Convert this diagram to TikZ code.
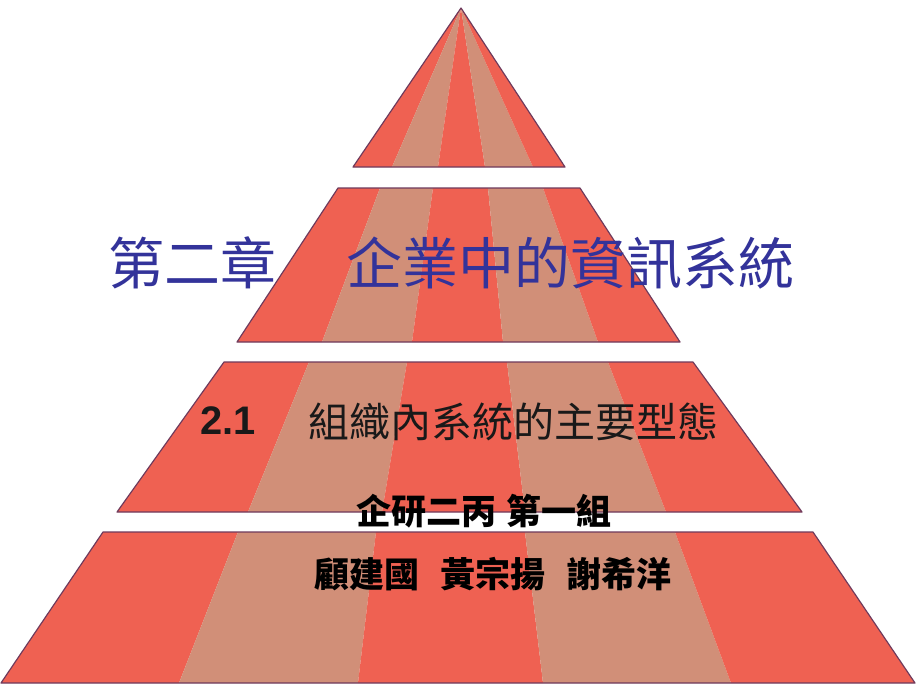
\documentclass[tikz,border=0pt]{standalone}
\usepackage{fontspec}
\setmainfont{Liberation Sans}
\newfontfamily\cjk{Noto Sans CJK TC}
\definecolor{stripered}{HTML}{EF6152}
\definecolor{stripetan}{HTML}{D18F78}
\definecolor{rim}{HTML}{6E3A5C}
\definecolor{titleblue}{HTML}{33339A}
\def\stripe[#1](#2)(#3)(#4)(#5){\fill[#1] (#2) -- (#3) -- (#4) -- (#5) -- cycle;}
\tikzset{rimline/.style={draw=rim, line width=1pt, line join=round},
  txt/.style={inner sep=0pt, anchor=base west}}

\begin{document}
\begin{tikzpicture}[x=0.03cm,y=-0.03cm]
			%%%%% START %%%%%
			\fill[white] (0,0) rectangle (920,690);
			
			% tip
			\fill[stripered] (461,8) -- (353,167) -- (392,167) -- cycle;
			\fill[stripetan] (461,8) -- (392,167) -- (438,167) -- cycle;
			\fill[stripered] (461,8) -- (438,167) -- (485,167) -- cycle;
			\fill[stripetan] (461,8) -- (485,167) -- (533,167) -- cycle;
			\fill[stripered] (461,8) -- (533,167) -- (565,167) -- cycle;
			\draw[rimline] (461,8) -- (353,167) -- (565,167) -- cycle;
			
			% second band
			\stripe[stripered](338,188)(380,188)(322,342)(237,342);
			\stripe[stripetan](380,188)(433,188)(412,342)(322,342);
			\stripe[stripered](433,188)(488,188)(503,342)(412,342);
			\stripe[stripetan](488,188)(543,188)(598,342)(503,342);
			\stripe[stripered](543,188)(580,188)(680,342)(598,342);
			\draw[rimline] (338,188) -- (580,188) -- (680,342) -- (237,342) -- cycle;
			
			% third band
			\stripe[stripered](224,362)(309,362)(248,512)(117,512);
			\stripe[stripetan](309,362)(407,362)(382,512)(248,512);
			\stripe[stripered](407,362)(507,362)(525,512)(382,512);
			\stripe[stripetan](507,362)(608,362)(666,512)(525,512);
			\stripe[stripered](608,362)(693,362)(802,512)(666,512);
			\draw[rimline] (224,362) -- (693,362) -- (802,512) -- (117,512) -- cycle;
			
			% base band
			\stripe[stripered](103,532)(238,532)(179,683)(1,683);
			\stripe[stripetan](238,532)(376,532)(358,683)(179,683);
			\stripe[stripered](376,532)(525,532)(543,683)(358,683);
			\stripe[stripetan](525,532)(675,532)(731,683)(543,683);
			\stripe[stripered](675,532)(813,532)(915,683)(731,683);
			\draw[rimline] (103,532) -- (813,532) -- (915,683) -- (1,683) -- cycle;
			
			% texts
			\node[txt, text=titleblue, font=\cjk\fontsize{47.8}{50}\selectfont] (chapter) at (108,284) {第二章};
			\node[txt, text=titleblue, font=\cjk\fontsize{47.8}{50}\selectfont] (title) at (346,284) {企業中的資訊系統};
			\node[txt, text=black!90, font=\bfseries\fontsize{34}{36}\selectfont] (secnum) at (200,434) {2.1};
			\node[txt, text=black!90, font=\cjk\fontsize{35}{37}\selectfont] (section) at (308,437) {組織內系統的主要型態};
			\node[txt, font=\cjk\bfseries\fontsize{29.9}{32}\selectfont] (group) at (356,524) {企研二丙\hspace{0.3em}第一組};
			\node[txt, font=\cjk\bfseries\fontsize{29.9}{32}\selectfont] (members) at (314,587) {顧建國\hspace{0.6em}黃宗揚\hspace{0.6em}謝希洋};
			%%%%% END %%%%%
\end{tikzpicture}
\end{document}
